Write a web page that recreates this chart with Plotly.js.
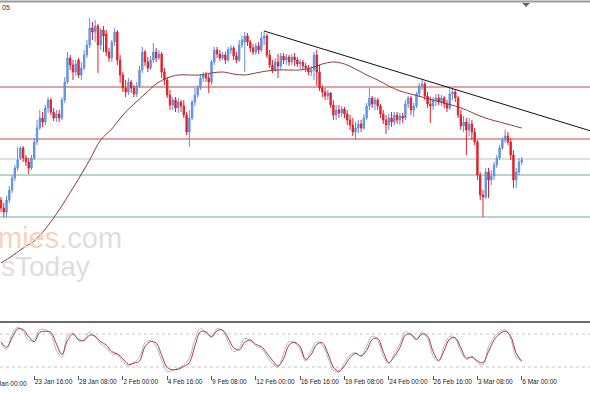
<!DOCTYPE html>
<html><head><meta charset="utf-8">
<script src="https://cdn.plot.ly/plotly-3.0.1.min.js"></script>
<style>html,body{margin:0;padding:0;background:#fff}#chart{width:590px;height:393px}</style>
</head><body><div id="chart"></div>
<script>
// H4 bars from 21 Jan 16:00 to 6 Mar 00:00 (arbitrary price units; price axis not visible)
const openP = [
120,112,108,120,130,142,152,162,172,162,
158,152,162,178,192,202,198,212,220,208,
202,206,202,220,238,262,255,248,260,245,
252,265,275,292,288,294,275,290,286,268,
262,278,288,260,245,232,228,238,232,226,
234,250,268,258,252,260,268,262,266,248,
240,225,215,220,212,218,214,205,188,202,
218,225,232,242,245,242,238,258,270,266,
262,265,260,270,272,264,260,275,278,284,
278,272,268,274,270,282,284,265,255,250,
258,254,264,260,263,258,263,260,256,258,
254,252,248,250,265,248,232,228,224,227,
215,205,210,207,211,206,200,195,188,192,
196,192,202,214,222,216,220,214,206,200,
195,202,198,205,200,204,202,216,222,210,
214,226,234,236,224,216,214,220,222,218,
222,216,212,226,228,222,205,194,198,190,
196,188,178,145,125,123,148,140,144,155,
162,172,180,184,178,165,140,148,158];
const highP = [
123,117,124,134,145,155,173,174,174,165,
162,165,182,200,210,208,215,223,222,212,
210,210,223,243,268,265,260,260,262,258,
270,280,302,298,300,296,292,294,290,272,
280,292,290,265,248,240,242,240,235,238,
254,273,270,263,264,277,272,270,268,252,
243,230,223,223,222,220,220,208,210,220,
232,235,246,248,248,246,260,273,273,270,
268,268,273,275,274,268,280,284,288,287,
280,276,277,278,288,289,286,270,260,262,
266,267,267,266,265,266,267,263,261,260,
257,255,254,268,270,255,235,232,230,228,
220,215,215,214,213,210,205,202,198,200,
200,206,217,232,224,223,222,216,210,205,
206,208,208,208,207,207,220,224,224,217,
228,237,240,238,228,223,223,226,226,225,
224,220,232,231,230,224,210,204,202,202,
200,192,180,148,130,152,152,150,158,165,
175,183,190,188,182,170,152,162,163];
const lowP = [
108,103,103,117,127,139,149,160,158,154,
146,150,160,175,190,193,195,207,205,199,
198,198,200,217,236,250,240,244,242,240,
250,262,272,280,278,247,270,268,264,258,
258,274,255,237,228,223,225,227,223,223,
232,247,254,248,250,257,258,260,242,235,
222,210,210,208,207,208,202,185,173,200,
214,222,230,238,238,227,235,255,262,259,
260,256,258,266,260,257,258,272,248,274,
268,265,265,266,268,275,262,252,247,248,
242,250,256,255,254,255,254,253,251,250,
248,245,244,240,234,229,223,220,220,212,
200,200,202,203,202,195,190,184,180,187,
188,190,200,210,212,210,210,202,196,186,
190,193,195,196,195,197,200,212,205,203,
212,223,230,220,212,197,210,214,215,214,
212,208,210,220,218,202,190,188,165,184,
180,175,140,120,103,121,122,135,140,152,
160,170,177,175,160,132,132,145,155];
const closeP = [
112,108,120,130,142,152,160,172,162,158,
152,162,178,192,202,198,212,220,208,202,
206,202,220,238,262,255,248,256,245,252,
265,275,292,288,294,275,290,284,268,262,
278,288,260,245,232,228,238,232,226,234,
250,268,258,252,260,268,262,266,248,240,
225,215,220,212,218,214,205,188,202,218,
225,232,242,245,242,238,258,270,266,262,
265,260,270,272,264,260,275,280,284,278,
272,268,274,270,282,284,265,255,250,258,
254,264,260,263,258,263,260,256,258,254,
252,248,250,265,248,232,228,224,227,215,
205,210,207,211,206,200,195,188,192,196,
192,202,214,222,216,220,214,206,200,195,
202,198,205,200,204,202,216,222,210,214,
226,234,236,224,216,214,220,222,218,222,
216,212,226,228,222,205,194,198,190,196,
188,178,145,125,123,148,140,144,155,162,
172,180,184,178,165,140,148,158,160];

// moving average, read every 4 bars
const maValues = [57,64,72,79,91,106,123,141,160,180,191,205,216,226,236,242,245,245,245,247,
248,246,245,247,249,250,250,250,252,256,258,256,251,245,240,234,229,226,223,220,
217,214,210,205,201,198,195,192];
// stochastic, read every 2 bars
const stochD = [66,56,73,89,88,75,66,83,85,83,62,43,68,80,70,68,78,76,66,60,
48,44,35,25,27,31,57,66,64,42,19,15,16,21,28,58,84,84,75,86,
87,73,55,51,65,69,61,57,45,32,22,35,60,65,57,34,43,61,64,45,
20,12,22,37,45,40,50,70,72,48,28,39,55,78,80,70,80,76,48,32,
50,71,73,55,36,38,31,28,48,69,80,85,76,45,30];
const stochK = [62,52,80,92,85,68,70,88,88,80,50,38,76,82,68,70,84,74,62,55,
44,42,30,22,28,38,64,68,58,32,12,14,18,24,36,70,90,82,74,90,
86,66,48,55,72,68,58,54,40,26,20,44,66,64,52,30,50,66,60,38,
14,11,28,42,46,40,58,76,68,40,26,44,62,84,78,70,84,72,40,30,
58,76,72,48,34,40,28,24,56,74,84,88,72,38,32];
const stochLevels = [80, 20];
// horizontal support / resistance levels
const levels = [233, 181, 161, 145, 103];
// trend line anchor points (bar index, price)
const trendX = [95, 213];
const trendY = [289, 189];
// time axis labels
const tickIdx = [12,28,44,60,76,92,108,124,140,156,172,188];
const tickLabels = ["23 Jan 16:00","28 Jan 08:00","2 Feb 00:00","4 Feb 16:00","9 Feb 08:00","12 Feb 00:00",
"16 Feb 16:00","19 Feb 08:00","24 Feb 00:00","26 Feb 16:00","3 Mar 08:00","6 Mar 00:00"];
const firstLabelIdx = -4, firstLabel = "21 Jan 00:00";

// ---- styles / layout ----
const W = 590, H = 393;
const pyF = px => 1 - px / H;
const xr = [-0.36, 212.64];
const levelStyles = [
  {color:'#c0484a', width:1},
  {color:'#c0484a', width:1},
  {color:'#d4d4d4', width:1.5},
  {color:'#9cc8b6', width:1.5},
  {color:'#9cc8b6', width:1.5}
];

const idx = openP.map((_, i) => i);
const maX = maValues.map((_, i) => i * 4);
const stX = stochD.map((_, i) => i * 2);

const traces = [
  {type:'candlestick', x: idx, open: openP, high: highP, low: lowP, close: closeP,
   xaxis:'x', yaxis:'y', whiskerwidth:0, hoverinfo:'skip',
   increasing:{line:{color:'#5f8fe2', width:1}, fillcolor:'#6f9be6'},
   decreasing:{line:{color:'#e0222c', width:1}, fillcolor:'#e0222c'}},
  {type:'scatter', mode:'lines', x: maX, y: maValues, xaxis:'x', yaxis:'y',
   line:{color:'#8e3d3a', width:1, shape:'spline'}, hoverinfo:'skip'},
  {type:'scatter', mode:'lines', x: trendX, y: trendY, xaxis:'x', yaxis:'y',
   line:{color:'#111', width:1}, hoverinfo:'skip'},
  {type:'scatter', mode:'lines', x: stX, y: stochK, xaxis:'x', yaxis:'y2',
   line:{color:'#a9b6d6', width:1, shape:'spline'}, hoverinfo:'skip'},
  {type:'scatter', mode:'lines', x: stX, y: stochD, xaxis:'x', yaxis:'y2',
   line:{color:'#b5353a', width:1, shape:'spline'}, hoverinfo:'skip'}
];

const shapes = [];
levels.forEach((lv, i) => shapes.push({type:'line', xref:'paper', yref:'y', x0:0, x1:1, y0:lv, y1:lv,
  line:levelStyles[i], layer:'below'}));
stochLevels.forEach(lv => shapes.push({type:'line', xref:'paper', yref:'y2', x0:0, x1:1, y0:lv, y1:lv,
  line:{color:'#c4c4c4', width:1, dash:'dot'}, layer:'below'}));
shapes.push({type:'line', xref:'paper', yref:'paper', x0:0, x1:1, y0:pyF(1.5), y1:pyF(1.5), line:{color:'#9a9a9a', width:2}});
shapes.push({type:'line', xref:'paper', yref:'paper', x0:0, x1:1, y0:pyF(322), y1:pyF(322), line:{color:'#6a6a6a', width:2}});
shapes.push({type:'path', xref:'paper', yref:'paper',
  path:`M ${522/W} ${pyF(3)} L ${530/W} ${pyF(3)} L ${526/W} ${pyF(7)} Z`, fillcolor:'#666', line:{width:0}});

const fracFirst = (firstLabelIdx - xr[0]) / (xr[1] - xr[0]) - 3 / W;
const annotations = [
  {xref:'paper', yref:'paper', x:0, y:pyF(8), xanchor:'left', yanchor:'middle', showarrow:false,
   text:'05', font:{family:'Liberation Sans', size:7, color:'#333'}},
  {xref:'paper', yref:'paper', x:124/W, y:pyF(238), xanchor:'right', yanchor:'middle', showarrow:false,
   text:'<span style="color:#f6d3bb">mies</span>.com', font:{family:'Liberation Sans', size:29, color:'#dedede'}},
  {xref:'paper', yref:'paper', x:92/W, y:pyF(266), xanchor:'right', yanchor:'middle', showarrow:false,
   text:'sToday', font:{family:'Liberation Sans', size:28, color:'#dedede'}},
  {xref:'paper', yref:'paper', x:fracFirst, y:pyF(383), xanchor:'left', yanchor:'middle', showarrow:false,
   text:firstLabel, font:{family:'Liberation Sans', size:6.5, color:'#222'}}
];

const layout = {
  width: W, height: H, margin:{l:0, r:0, t:0, b:0},
  paper_bgcolor:'#fff', plot_bgcolor:'#fff', showlegend:false, hovermode:false,
  xaxis:{range:xr, anchor:'free', position:pyF(375), tickmode:'array', tickvals:tickIdx, ticktext:tickLabels,
    ticks:'outside', ticklen:4, tickwidth:1, tickcolor:'#555', ticklabelposition:'outside right',
    tickangle:0, automargin:false,
    tickfont:{family:'Liberation Sans', size:6.5, color:'#222'},
    showgrid:false, zeroline:false, showline:false, rangeslider:{visible:false}, fixedrange:true},
  yaxis:{domain:[pyF(320), pyF(4)], range:[0, 316], visible:false, fixedrange:true},
  yaxis2:{domain:[pyF(378), pyF(323)], range:[0, 100], visible:false, fixedrange:true},
  shapes: shapes, annotations: annotations
};

Plotly.newPlot('chart', traces, layout, {staticPlot:true, displayModeBar:false});
</script></body></html>
